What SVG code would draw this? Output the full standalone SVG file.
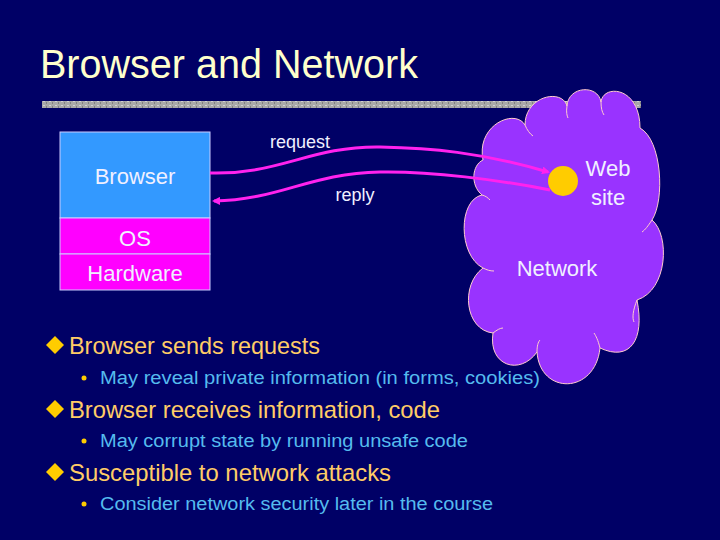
<svg xmlns="http://www.w3.org/2000/svg" width="720" height="540" viewBox="0 0 720 540">
<style>
.lt{font-family:"Liberation Sans",Arial,sans-serif;fill:#f0f0ff}
.b1{font-family:"Liberation Sans",Arial,sans-serif;font-size:24px;fill:#ffcc66}
.b2{font-family:"Liberation Sans",Arial,sans-serif;font-size:18px;fill:#55bbee}
.conn{fill:none;stroke:#ff22ee;stroke-width:3}
</style>
<defs>
<pattern id="spk" width="6" height="4" patternUnits="userSpaceOnUse">
<rect width="6" height="4" fill="#a8a8a8"/>
<rect x="1" y="1" width="2" height="1" fill="#d0d0d0"/>
<rect x="4" y="2" width="1" height="2" fill="#808080"/>
</pattern>
<marker id="ah" markerWidth="8" markerHeight="8" refX="6" refY="4" orient="auto" markerUnits="userSpaceOnUse">
<path d="M0,0 L8,4 L0,8 Z" fill="#ff22ee"/>
</marker>
</defs>
<rect width="720" height="540" fill="#000066"/>
<text x="40" y="78" font-family="Liberation Sans, Arial, sans-serif" font-size="40" fill="#ffffcc" textLength="378" lengthAdjust="spacingAndGlyphs">Browser and Network</text>
<rect x="42" y="101" width="599" height="7" fill="url(#spk)"/>

<g id="network">
<path d="M483,160 C476,125 515,108 525,125 C525,96 562,88 567,106 C568,86 598,84 601,102 C603,84 640,86 640,128 C662,140 665,200 652,220 C670,235 668,290 637,300 C645,340 630,362 600,348 C595,395 540,395 537,352 C520,376 488,366 493,333 C465,330 460,285 483,268 C458,255 458,200 482,195 C470,185 472,165 483,160 Z" fill="#9933ff" stroke="#ffcccc" stroke-width="1"/>
<path d="M525,125 C527,130 530,134 533,136 M567,106 C566,112 567,116 568,118 M601,102 C601,108 602,112 604,115 M652,220 C648,226 645,230 642,232 M637,300 C633,310 632,318 634,322 M600,348 C598,340 596,336 594,333 M537,352 C537,346 538,342 540,340 M493,333 C497,330 500,328 503,328 M483,268 C487,270 490,271 494,271 M482,195 C486,196 488,198 490,200" fill="none" stroke="#ffcccc" stroke-width="1"/>
<text class="lt" x="557" y="276" font-size="22" text-anchor="middle">Network</text>
</g>

<g id="website">
<circle cx="563" cy="181" r="15" fill="#ffcc00"/>
<text class="lt" x="608" y="176" font-size="22" text-anchor="middle">Web</text>
<text class="lt" x="608" y="205" font-size="22" text-anchor="middle">site</text>
</g>

<g id="stack">
<rect x="60" y="132" width="150" height="86" fill="#3399ff" stroke="#ccccff" stroke-width="1"/>
<rect x="60" y="218" width="150" height="36" fill="#ff00ff" stroke="#ccccff" stroke-width="1"/>
<rect x="60" y="254" width="150" height="36" fill="#ff00ff" stroke="#ccccff" stroke-width="1"/>
<text class="lt" x="135" y="184" font-size="22" text-anchor="middle">Browser</text>
<text class="lt" x="135" y="246" font-size="22" text-anchor="middle">OS</text>
<text class="lt" x="135" y="281" font-size="22" text-anchor="middle">Hardware</text>
</g>

<g id="connectors">
<path class="conn" d="M210,173 C280,175 310,146 380,147 C430,148 480,152 548,172" marker-end="url(#ah)"/>
<path class="conn" d="M550,190 C500,180 430,171 380,172 C310,173 280,200 214,201" marker-end="url(#ah)"/>
<text class="lt" x="300" y="148" font-size="18" text-anchor="middle">request</text>
<text class="lt" x="355" y="201" font-size="18" text-anchor="middle">reply</text>
</g>

<g id="bullets">
<path d="M46,345 L55,336 L64,345 L55,354 Z" fill="#ffcc00"/>
<text class="b1" x="69" y="354" textLength="251" lengthAdjust="spacingAndGlyphs">Browser sends requests</text>
<circle cx="84" cy="378" r="2.5" fill="#ffcc00"/>
<text class="b2" x="100" y="384" textLength="440" lengthAdjust="spacingAndGlyphs">May reveal private information (in forms, cookies)</text>
<path d="M46,409 L55,400 L64,409 L55,418 Z" fill="#ffcc00"/>
<text class="b1" x="69" y="418" textLength="371" lengthAdjust="spacingAndGlyphs">Browser receives information, code</text>
<circle cx="84" cy="441" r="2.5" fill="#ffcc00"/>
<text class="b2" x="100" y="447" textLength="368" lengthAdjust="spacingAndGlyphs">May corrupt state by running unsafe code</text>
<path d="M46,472 L55,463 L64,472 L55,481 Z" fill="#ffcc00"/>
<text class="b1" x="69" y="481" textLength="322" lengthAdjust="spacingAndGlyphs">Susceptible to network attacks</text>
<circle cx="84" cy="504" r="2.5" fill="#ffcc00"/>
<text class="b2" x="100" y="510" textLength="393" lengthAdjust="spacingAndGlyphs">Consider network security later in the course</text>
</g>
</svg>
